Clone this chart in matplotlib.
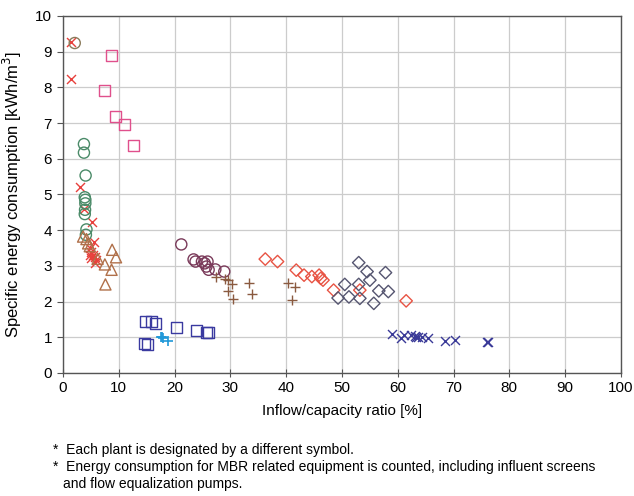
import matplotlib
matplotlib.use("Agg")
import matplotlib.pyplot as plt

plt.rcParams['font.family'] = ['Liberation Sans', 'DejaVu Sans']

# each plant: (x = inflow/capacity ratio %, y = specific energy kWh/m3)
red_x_x = [1.4, 1.4, 3.0, 3.7, 5.2, 5.5, 4.8, 5.1, 5.4, 5.7, 5.1, 6.0, 5.7, 4.8]
red_x_y = [9.27, 8.23, 5.22, 4.58, 4.24, 3.68, 3.49, 3.40, 3.30, 3.26, 3.21, 3.17, 3.07, 3.30]

olive_circ_x = [2.1]
olive_circ_y = [9.24]

pink_sq_x = [8.75, 7.5, 9.4, 10.95, 12.6]
pink_sq_y = [8.9, 7.91, 7.19, 6.95, 6.38]

green_circ_x = [3.75, 3.75, 4.05, 3.9, 4.0, 4.0, 3.95, 3.9, 4.2, 4.1]
green_circ_y = [6.41, 6.17, 5.53, 4.92, 4.85, 4.75, 4.57, 4.45, 4.02, 3.87]

tri_x = [3.6, 4.2, 4.5, 4.8, 6.2, 7.5, 8.8, 9.5, 8.7, 7.6]
tri_y = [3.82, 3.75, 3.63, 3.55, 3.20, 3.04, 3.45, 3.24, 2.89, 2.48]

maroon_circ_x = [21.2, 23.4, 23.75, 24.9, 25.4, 25.9, 25.7, 26.1, 27.3, 28.9]
maroon_circ_y = [3.60, 3.18, 3.12, 3.12, 3.07, 3.12, 2.98, 2.89, 2.90, 2.84]

brown_plus_x = [27.4, 29.0, 29.6, 30.3, 29.6, 30.4, 33.3, 33.8, 40.4, 41.6, 41.1]
brown_plus_y = [2.70, 2.62, 2.60, 2.50, 2.30, 2.06, 2.51, 2.22, 2.53, 2.42, 2.03]

red_dia_x = [36.25, 38.45, 41.8, 43.2, 44.6, 45.9, 46.2, 46.6, 48.5, 53.2, 61.5]
red_dia_y = [3.19, 3.12, 2.88, 2.74, 2.70, 2.74, 2.65, 2.60, 2.32, 2.32, 2.02]

gray_dia_x = [53.0, 54.5, 57.8, 55.0, 50.5, 53.0, 56.6, 58.3, 49.3, 51.25, 53.2, 55.7]
gray_dia_y = [3.09, 2.84, 2.81, 2.60, 2.48, 2.48, 2.30, 2.28, 2.10, 2.13, 2.09, 1.95]

navy_x_x = [59.0, 60.5, 61.2, 62.4, 63.0, 63.3, 63.6, 64.3, 65.5, 68.5, 70.3, 76.0, 76.1]
navy_x_y = [1.08, 0.97, 1.05, 1.06, 1.03, 1.00, 1.02, 1.00, 0.97, 0.90, 0.93, 0.88, 0.86]

navy_sq_x = [14.8, 15.9, 16.5, 14.6, 15.1, 20.3, 24.0, 25.7, 26.1]
navy_sq_y = [1.44, 1.43, 1.39, 0.83, 0.80, 1.28, 1.19, 1.13, 1.13]

cyan_plus_x = [17.5, 17.8, 18.0, 18.9]
cyan_plus_y = [1.00, 1.02, 0.97, 0.90]

fig = plt.figure(figsize=(6.34, 4.96), dpi=100)
ax = fig.add_axes([0.0994, 0.248, 0.8800, 0.72])

ms = 8
kw_open = dict(facecolor='none', s=ms ** 2, linewidths=1.0, zorder=3)
ax.scatter(red_x_x, red_x_y, marker='x', color='#e8403c', s=42, linewidths=1.0, zorder=3)
ax.scatter(olive_circ_x, olive_circ_y, marker='o', edgecolor='#8a7a5a', **kw_open)
ax.scatter(pink_sq_x, pink_sq_y, marker='s', edgecolor='#e0508c', **kw_open)
ax.scatter(green_circ_x, green_circ_y, marker='o', edgecolor='#4a8a68', **kw_open)
ax.scatter(tri_x, tri_y, marker='^', edgecolor='#b0704a', **kw_open)
ax.scatter(maroon_circ_x, maroon_circ_y, marker='o', edgecolor='#7a3a5a', **kw_open)
ax.scatter(brown_plus_x, brown_plus_y, marker='+', color='#8a5a40', s=50, linewidths=1.0, zorder=3)
ax.scatter(red_dia_x, red_dia_y, marker='D', edgecolor='#e85444', facecolor='none', s=40,
           linewidths=1.0, zorder=3)
ax.scatter(gray_dia_x, gray_dia_y, marker='D', edgecolor='#555570', facecolor='none', s=40,
           linewidths=1.0, zorder=3)
ax.scatter(navy_x_x, navy_x_y, marker='x', color='#3a3a98', s=42, linewidths=1.0, zorder=3)
ax.scatter(navy_sq_x, navy_sq_y, marker='s', edgecolor='#3a3aa0', **kw_open)
ax.scatter(cyan_plus_x, cyan_plus_y, marker='+', color='#2098d8', s=50, linewidths=1.2, zorder=3)

ax.set_xlim(0, 100)
ax.set_ylim(0, 10)
ax.set_xticks(range(0, 101, 10))
ax.set_yticks(range(0, 11))
ax.grid(True, color='#cccccc', linewidth=0.9)
ax.set_axisbelow(True)
for sp in ax.spines.values():
    sp.set_color('#555555')
    sp.set_linewidth(1.0)
ax.tick_params(axis='x', direction='inout', length=6, color='#555555', labelsize=11, pad=3)
ax.tick_params(axis='y', direction='out', length=4, color='#555555', labelsize=11, pad=4)

ax.set_xlabel('Inflow/capacity ratio [%]', fontsize=11, labelpad=6)
ax.set_ylabel('Specific energy consumption [kWh/m$^3$]', fontsize=12, labelpad=8)

fig.text(0.083, 0.093, '*  Each plant is designated by a different symbol.', fontsize=10, va='center')
fig.text(0.083, 0.058, '*  Energy consumption for MBR related equipment is counted, including influent screens',
         fontsize=10, va='center')
fig.text(0.100, 0.024, 'and flow equalization pumps.', fontsize=10, va='center')

fig.savefig('out.png', dpi=100)
